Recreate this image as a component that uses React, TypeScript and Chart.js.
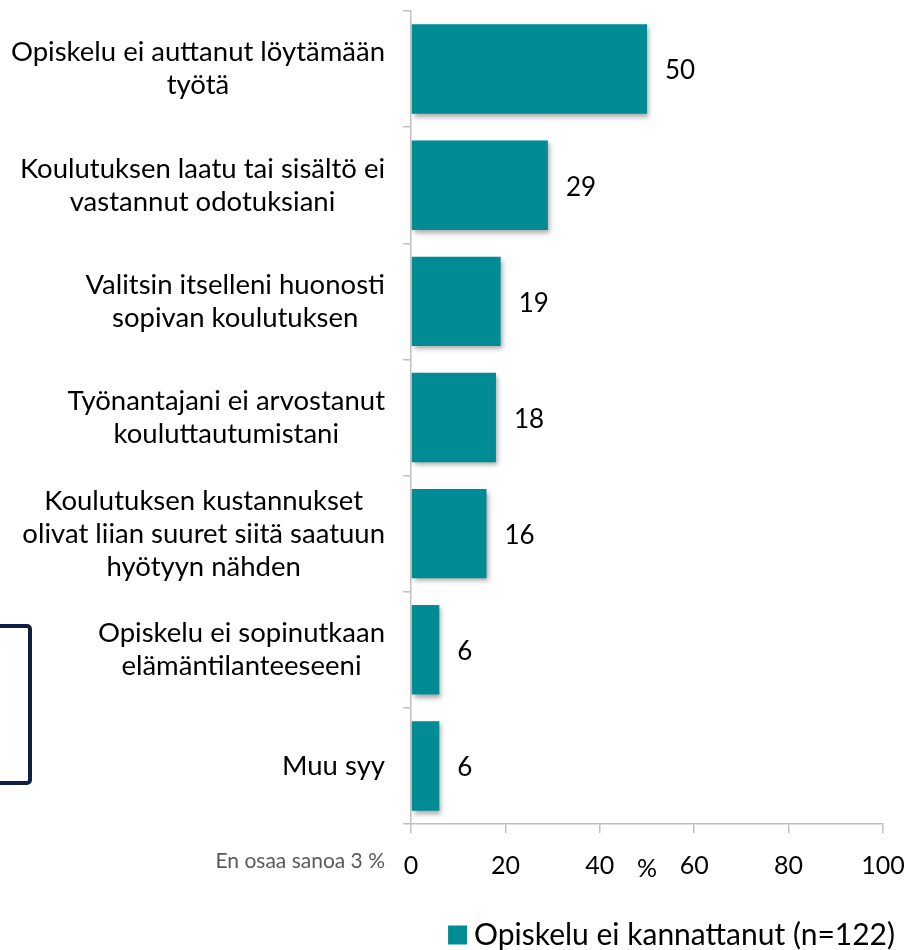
import React, { useEffect, useRef } from "react";
import { Chart, registerables } from "chart.js";

Chart.register(...registerables);

const categories: string[][] = [
  ["Opiskelu ei auttanut löytämään", "työtä"],
  ["Koulutuksen laatu tai sisältö ei", "vastannut odotuksiani"],
  ["Valitsin itselleni huonosti", "sopivan koulutuksen"],
  ["Työnantajani ei arvostanut", "kouluttautumistani"],
  ["Koulutuksen kustannukset", "olivat liian suuret siitä saatuun", "hyötyyn nähden"],
  ["Opiskelu ei sopinutkaan", "elämäntilanteeseeni"],
  ["Muu syy"],
];
const values: number[] = [50, 29, 19, 18, 16, 6, 6];
const seriesLabel = "Opiskelu ei kannattanut (n=122)";
const axisUnit = "%";
const noAnswerNote = "En osaa sanoa 3 %";

const FONT = "Lato";
const BAR_COLOR = "#008B95";
const AXIS_COLOR = "#C0C0C0";

export default function App() {
  const ref = useRef<HTMLCanvasElement | null>(null);

  useEffect(() => {
    if (!ref.current) return;

    const decor = {
      id: "decor",
      beforeDatasetsDraw(chart: any) {
        const ctx = chart.ctx;
        ctx.save();
        ctx.shadowColor = "rgba(0,0,0,0.35)";
        ctx.shadowBlur = 5;
        ctx.shadowOffsetX = 2;
        ctx.shadowOffsetY = 3;
      },
      afterDatasetsDraw(chart: any) {
        const ctx = chart.ctx;
        ctx.restore();
        const meta = chart.getDatasetMeta(0);
        ctx.save();
        ctx.fillStyle = "#000";
        ctx.font = `26px ${FONT}`;
        ctx.textAlign = "left";
        ctx.textBaseline = "middle";
        meta.data.forEach((bar: any, i: number) => {
          ctx.fillText(String(values[i]), bar.x + 18, bar.y + 2);
        });
        ctx.restore();
      },
      afterDraw(chart: any) {
        const ctx = chart.ctx;
        const y = chart.scales.y;
        const area = chart.chartArea;
        ctx.save();
        // category labels: block right-aligned, lines centered within block
        ctx.font = `27.5px ${FONT}`;
        ctx.fillStyle = "#000";
        ctx.textAlign = "center";
        ctx.textBaseline = "middle";
        const lh = 33;
        const rightEdge = area.left - 26;
        categories.forEach((lines, i) => {
          const cy = y.getPixelForValue(i);
          const maxW = Math.max(...lines.map((l) => ctx.measureText(l).width));
          const cx = rightEdge - maxW / 2;
          const startY = cy - ((lines.length - 1) * lh) / 2;
          lines.forEach((l, j) => ctx.fillText(l, cx, startY + j * lh));
        });
        // unit label (axis title in tick row)
        ctx.font = `25px ${FONT}`;
        ctx.fillText(axisUnit, (area.left + area.right) / 2, area.bottom + 45);
        // note
        ctx.font = `21px ${FONT}`;
        ctx.fillStyle = "#595959";
        ctx.textAlign = "right";
        ctx.fillText(noAnswerNote, rightEdge, area.bottom + 37);
        // legend
        const ds = chart.data.datasets[0];
        ctx.font = `30px ${FONT}`;
        const tw = ctx.measureText(ds.label).width;
        const textRight = area.right + 12;
        const textLeft = textRight - tw;
        const ly = 935;
        ctx.fillStyle = ds.backgroundColor;
        ctx.fillRect(textLeft - 26, ly - 9.5, 19, 19);
        ctx.fillStyle = "#000";
        ctx.textAlign = "left";
        ctx.fillText(ds.label, textLeft, ly);
        // frame at left
        ctx.strokeStyle = "#0E1F44";
        ctx.lineWidth = 4;
        ctx.beginPath();
        ctx.roundRect(-20, 626, 50, 157, 3);
        ctx.stroke();
        ctx.restore();
      },
    };

    const chart = new Chart(ref.current, {
      type: "bar",
      data: {
        labels: categories.map((c) => c.join(" ")),
        datasets: [
          {
            label: seriesLabel,
            data: values,
            backgroundColor: BAR_COLOR,
            borderWidth: 0,
            barPercentage: 0.77,
            categoryPercentage: 1,
          },
        ],
      },
      options: {
        indexAxis: "y",
        animation: false,
        responsive: false,
        maintainAspectRatio: false,
        layout: { padding: { left: 0, right: 27, top: 11, bottom: 0 } },
        scales: {
          x: {
            min: 0,
            max: 100,
            ticks: {
              stepSize: 20,
              color: "#000",
              font: { family: FONT, size: 25 },
              padding: 18,
            },
            grid: {
              drawOnChartArea: false,
              tickLength: 9,
              color: AXIS_COLOR,
              lineWidth: 1.5,
            },
            border: { color: AXIS_COLOR, width: 1.5 },
            afterFit: (s: any) => {
              s.height = 126;
              s.paddingLeft = 0;
              s.paddingRight = 0;
            },
          },
          y: {
            type: "category",
            ticks: { display: false },
            grid: {
              offset: true,
              drawOnChartArea: false,
              tickLength: 8,
              color: AXIS_COLOR,
              lineWidth: 1.5,
            },
            border: { color: AXIS_COLOR, width: 1.5 },
            afterFit: (s: any) => {
              s.width = 411;
              s.paddingTop = 0;
              s.paddingBottom = 0;
            },
          },
        },
        plugins: {
          legend: { display: false },
          tooltip: { enabled: false },
        },
      },
      plugins: [decor],
    } as any);

    return () => chart.destroy();
  }, []);

  return (
    <div style={{ position: "absolute", left: 0, top: 0, width: 910, height: 950, background: "#fff" }}>
      <canvas ref={ref} width={910} height={950} style={{ display: "block" }} />
    </div>
  );
}
